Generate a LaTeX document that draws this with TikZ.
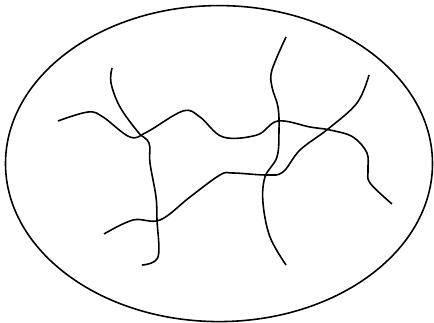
\documentclass[tikz,border=0pt]{standalone}
\usepackage{tikz}
\usetikzlibrary{positioning}

\begin{document}
\begin{tikzpicture}[x=0.02cm, y=-0.02cm, every path/.style={line width=0.9pt}]
                \useasboundingbox (0,0) rectangle (434,323);
                % Outer ellipse
                \draw (219,163.6) ellipse [x radius=213.5, y radius=158];
            
                % Left vertical strand
                \draw plot[smooth, tension=0.6] coordinates {(112,68) (111,83) (120,107) (138,132) (149,143) (150,163) (156,197) (157,220) (158,257) (142,265)};
                % Right vertical strand
                \draw plot[smooth, tension=0.6] coordinates {(286,37) (272,70) (272,87) (278,107) (279,130) (277,157) (265,177) (263,203) (270,237) (286,265)};
            
                % Upper strand
                \draw plot[smooth, tension=0.6] coordinates {(58,121) (88,112) (103,117) (130,137) (147,132) (183,111) (200,117) (223,137) (257,135) (278,121) (310,127) (330,130) (353,137) (367,153) (368,170) (370,183) (392,204)};
                % Lower strand
                \draw plot[smooth, tension=0.6] coordinates {(104,234) (133,220) (160,220) (190,197) (220,175) (233,173) (267,175) (283,172) (300,150) (328,129) (357,103) (369,75)};
            \end{tikzpicture}
\end{document}
